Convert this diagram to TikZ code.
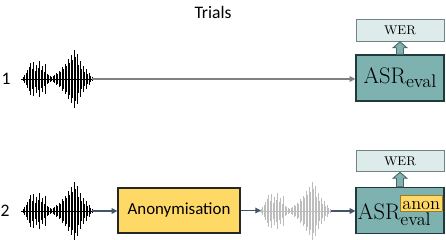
\documentclass[tikz,border=0pt]{standalone}
\usepackage{fontspec}
\usepackage{xcolor}
\usepackage{tikz}
\usetikzlibrary{positioning,arrows.meta,calc}
\newfontfamily\calibri{Carlito}
\definecolor{trteal}{HTML}{7DB2B0}
\definecolor{trtealdark}{HTML}{1F3A3A}
\definecolor{trwer}{HTML}{DDEBEB}
\definecolor{trwerline}{HTML}{6F8585}
\definecolor{tryellow}{HTML}{FFD966}
\definecolor{tranonline}{HTML}{9C7A1E}
\definecolor{trslate}{HTML}{44546A}
\definecolor{trgrey}{HTML}{808080}
\definecolor{trwavegrey}{HTML}{BDBDBD}

\begin{document}
\begin{tikzpicture}[
  x=0.025cm,y=-0.025cm,
  asrbox/.style={rectangle,draw=trtealdark,line width=0.9pt,fill=trteal,minimum width=2.2cm,minimum height=1.15cm,inner sep=0pt,font=\fontsize{16}{18}\selectfont},
  werbox/.style={rectangle,draw=trwerline,line width=0.7pt,fill=trwer,minimum width=2.2cm,minimum height=0.54cm,inner sep=0pt,font=\fontsize{9}{10}\selectfont},
  anonbox/.style={rectangle,draw=black!85,line width=0.9pt,fill=tryellow,minimum width=3.05cm,minimum height=1.125cm,font=\calibri\fontsize{12}{14}\selectfont},
  label/.style={font=\calibri\fontsize{12.5}{14}\selectfont},
  link/.style={line width=0.8pt,-{Triangle[length=4pt,width=4pt]}},
  lift/.style={draw=trtealdark!80,fill=trteal,line width=0.6pt},
  wave/.pic={
    \draw[line width=0.5pt] (-2,0) -- (69,0);
    \foreach \x/\a in {0/2,1.5/4,3/6,4.5/9,6/12,7.5/16,9/10,10.5/17,12/8,13.5/14,15/11,16.5/18,18/9,19.5/13,21/7,22.5/15,24/5,25.5/4,27/3,28.5/2,30/3,31.5/4,33/6,34.5/5,36/8,37.5/7,39/12,40.5/10,42/15,43.5/13,45/20,46.5/16,48/24,49.5/19,51/29,52.5/22,54/25,55.5/14,57/18,58.5/10,60/13,61.5/7,63/10,64.5/5,66/6,67.5/3,69/2}
      \draw[line width=0.65pt] (\x,-\a) -- (\x,\a);
  },
]
\useasboundingbox (0,0) rectangle (446,240);

\node[label] (trials) at (213,12) {Trials};
\node[label] (num1) at (6,79) {1};
\node[label] (num2) at (5,211) {2};

% trial 1
\pic at (23,79) {wave};
\coordinate (wave1) at (92,79);
\node[asrbox] (asr1) at (400,78) {ASR\raisebox{-3pt}{\fontsize{13}{15}\selectfont eval}};
\node[werbox] (wer1) at (400,30.5) {WER};
\draw[link,trgrey] (wave1) -- (wave1 -| asr1.west);

% trial 2
\pic at (23,211) {wave};
\coordinate (wave2) at (92,211);
\node[anonbox] (anon) at (179,210.5) {Anonymisation};
\pic[trwavegrey] at (261,211) {wave};
\coordinate (wave3in) at (261,211);
\coordinate (wave3) at (331,211);
\node[asrbox] (asr2) at (400,210.5) {ASR\rlap{\raisebox{-4.5pt}{\fontsize{13}{15}\selectfont eval}}\raisebox{7.2pt}{\fontsize{13}{15}\selectfont\setlength{\fboxsep}{1pt}\fcolorbox{tranonline}{tryellow}{anon\vphantom{l}}}};
\node[werbox] (wer2) at (400,161) {WER};
\draw[link,trslate] (wave2) -- (wave2 -| anon.west);
\draw[link,trslate] (anon.east) -- (anon.east -| wave3in);
\draw[link,trslate] (wave3) -- (wave3 -| asr2.west);

\foreach \n in {1,2}
  \draw[lift] ($(asr\n.north)+(-3.5,0)$) -- ($(wer\n.south)+(-3.5,6)$) -- ($(wer\n.south)+(-7,6)$) -- (wer\n.south) -- ($(wer\n.south)+(7,6)$) -- ($(wer\n.south)+(3.5,6)$) -- ($(asr\n.north)+(3.5,0)$) -- cycle;
\end{tikzpicture}
\end{document}
